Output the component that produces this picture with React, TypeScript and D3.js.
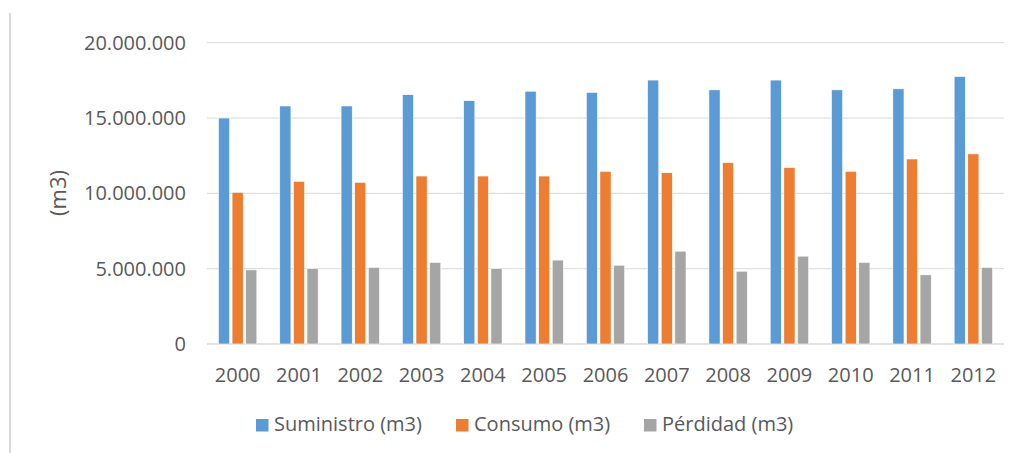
import React from 'react';
import * as d3 from 'd3';

const years = ['2000','2001','2002','2003','2004','2005','2006','2007','2008','2009','2010','2011','2012'];
const suministro = [15.0, 15.8, 15.8, 16.55, 16.15, 16.78, 16.7, 17.52, 16.87, 17.52, 16.87, 16.94, 17.76].map(v => v * 1e6);
const consumo = [10.07, 10.8, 10.73, 11.15, 11.15, 11.15, 11.46, 11.37, 12.04, 11.71, 11.46, 12.28, 12.62].map(v => v * 1e6);
const perdidad = [4.92, 5.01, 5.08, 5.41, 5.01, 5.57, 5.23, 6.16, 4.83, 5.83, 5.41, 4.59, 5.08].map(v => v * 1e6);
const yTicks = [0, 5000000, 10000000, 15000000, 20000000];
const seriesNames = ['Suministro (m3)', 'Consumo (m3)', 'Pérdidad (m3)'];
const seriesColors = ['#5B9BD5', '#ED7D31', '#A5A5A5'];
const seriesValues = [suministro, consumo, perdidad];

const W = 1016, H = 453;
const FONT = '"Open Sans", sans-serif';
const TEXT = '#595959';

const fmt = (v: number) => (v === 0 ? '0' : d3.format(',')(v).replace(/,/g, '.'));

export default function App() {
  const x0 = d3.scaleBand<string>().domain(years).range([207, 1004]).padding(0);
  const x1 = d3.scaleBand<string>().domain(seriesNames).range([-19.2, 19.2]).paddingInner(0.18).paddingOuter(0);
  const y = d3.scaleLinear().domain([0, 20000000]).range([344, 42.7]);
  const legendX = [256, 456, 644];

  return (
    <svg width={W} height={H} style={{ position: 'absolute', left: 0, top: 0, background: '#fff' }}>
      <line x1={10} x2={10} y1={13} y2={H} stroke="#d9d9d9" strokeWidth={2} />
      {yTicks.map(t => (
        <g key={t}>
          <line x1={207} x2={1004} y1={y(t)} y2={y(t)} stroke="#d9d9d9" strokeWidth={t === 0 ? 1.3 : 1} />
          <text x={186} y={y(t)} dy="0.35em" textAnchor="end" fontFamily={FONT} fontSize={20} fill={TEXT}>{fmt(t)}</text>
        </g>
      ))}
      <text transform={`translate(66,193) rotate(-90)`} textAnchor="middle" fontFamily={FONT} fontSize={22} fill={TEXT}>(m3)</text>
      {years.map((yr, i) => {
        const cx = (x0(yr) as number) + x0.bandwidth() / 2;
        return (
          <g key={yr}>
            {seriesNames.map((s, k) => {
              const v = seriesValues[k][i];
              return (
                <rect key={s} x={cx + (x1(s) as number)} y={y(v)} width={x1.bandwidth()} height={y(0) - y(v)}
                  fill={seriesColors[k]} stroke="#ffffff" strokeWidth={0.6} />
              );
            })}
            <text x={cx} y={382} textAnchor="middle" fontFamily={FONT} fontSize={20} fill={TEXT}>{yr}</text>
          </g>
        );
      })}
      {seriesNames.map((s, k) => (
        <g key={s}>
          <rect x={legendX[k]} y={419} width={12.5} height={12.5} fill={seriesColors[k]} />
          <text x={legendX[k] + 18} y={431} fontFamily={FONT} fontSize={20} fill={TEXT}>{s}</text>
        </g>
      ))}
    </svg>
  );
}
